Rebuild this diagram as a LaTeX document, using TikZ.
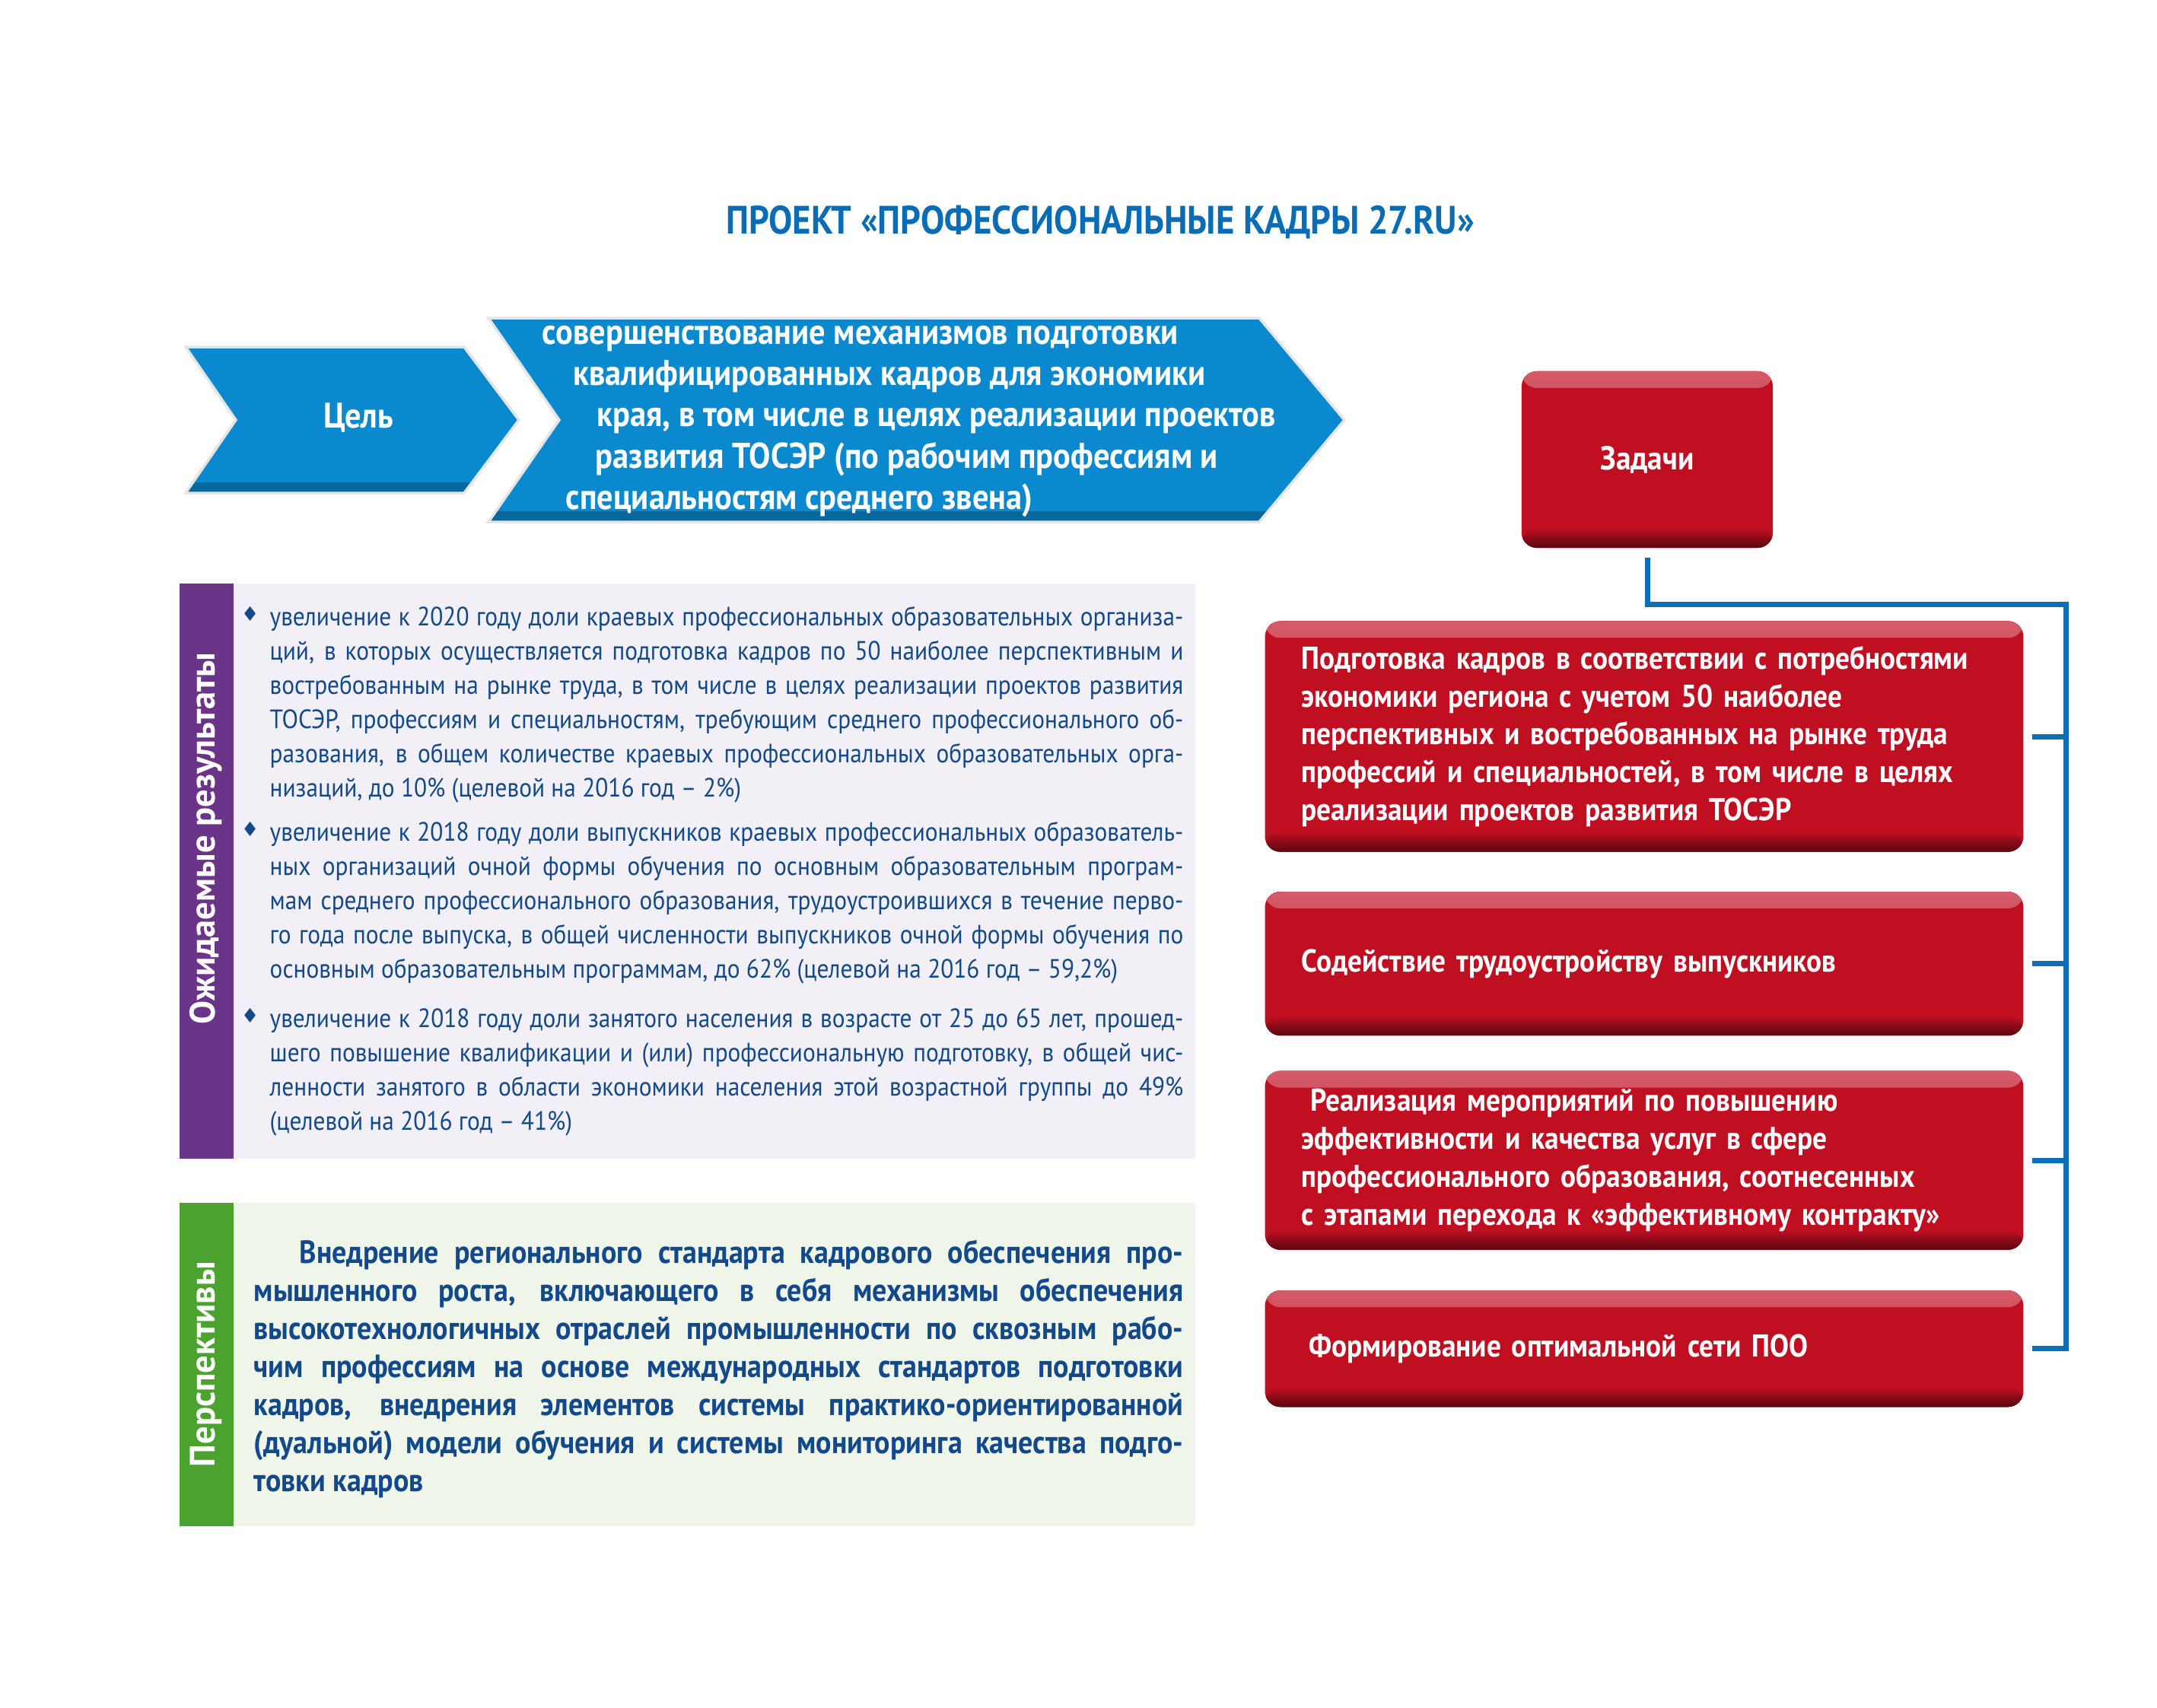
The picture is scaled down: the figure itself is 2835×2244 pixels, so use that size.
\documentclass[tikz,border=0pt]{standalone}
\usepackage{fontspec}
\setmainfont{PT Sans}[FakeStretch=0.9]
\newfontfamily\sidefont{PT Sans}
\newfontfamily\symfont{DejaVu Sans}
\usetikzlibrary{positioning,calc}
\definecolor{titleblue}{HTML}{0A6CB5}
\definecolor{chevblue}{HTML}{0A89CF}
\definecolor{taskred}{HTML}{C10F22}
\definecolor{linkblue}{HTML}{0B6FB8}
\definecolor{textblue}{HTML}{12498A}
\definecolor{resviolet}{HTML}{6A3589}
\definecolor{resbg}{HTML}{F2EFF7}
\definecolor{progreen}{HTML}{4BA22F}
\definecolor{probg}{HTML}{F0F5EA}
\tikzset{
  chevshape/.style={fill=chevblue, draw=black!10, line width=1pt,
    path picture={\fill[top color=chevblue, bottom color=chevblue!75!black]
      ([yshift=0.14cm]path picture bounding box.south west) rectangle (path picture bounding box.south east);}},
  redface/.style={fill=taskred, rounded corners=0.2cm, text=white,
    path picture={
      \fill[top color=taskred!68!white, bottom color=taskred]
        (path picture bounding box.north west) rectangle ([yshift=-0.22cm]path picture bounding box.north east);
      \fill[top color=taskred, bottom color=taskred!45!black]
        ([yshift=0.26cm]path picture bounding box.south west) rectangle (path picture bounding box.south east);}},
  taskbox/.style={redface, inner xsep=0.48cm, text width=9cm, align=left,
    font=\bfseries\fontsize{11.8pt}{14.2pt}\selectfont},
  conn/.style={draw=linkblue, line width=2pt},
  sidelabel/.style={rotate=90, text=white, font=\sidefont\bfseries\fontsize{13.2pt}{15pt}\selectfont},
  bodytext/.style={text=textblue, inner sep=0pt, anchor=north west, align=justify},
}
\newcommand{\resbullet}{\noindent\llap{\raisebox{1.5pt}{\symfont\fontsize{7.5pt}{7.5pt}\selectfont ♦}\hspace{4pt}}}

\begin{document}
\begin{tikzpicture}[x=0.01cm, y=-0.01cm]
  \useasboundingbox (0,0) rectangle (2835,2244);
  % title
  \node[anchor=base, text=titleblue, font=\bfseries\fontsize{14.8pt}{17pt}\selectfont] (title) at (1446,307)
    {ПРОЕКТ «ПРОФЕССИОНАЛЬНЫЕ КАДРЫ 27.RU»};

  % goal
  \fill[chevshape] (244,456) -- (610,456) -- (682,552) -- (610,648) -- (244,648) -- (310,552) -- cycle;
  \node[anchor=base, text=white, font=\bfseries\fontsize{13.3pt}{15pt}\selectfont] (goal) at (471,562) {Цель};
  \fill[chevshape] (642,418) -- (1655,418) -- (1767,552) -- (1655,686) -- (642,686) -- (735,552) -- cycle;
  \node[anchor=north west, inner sep=0pt, align=left, text=white,
    font=\bfseries\fontsize{13.4pt}{15.4pt}\selectfont] (goaltext) at (712,414)
    {\strut совершенствование механизмов подготовки\\
     \hspace*{0.41cm}квалифицированных кадров для экономики\\
     \hspace*{0.72cm}края, в том числе в целях реализации проектов\\
     \hspace*{0.70cm}развития ТОСЭР (по рабочим профессиям и\\
     \hspace*{0.31cm}специальностям среднего звена)};

  % expected results
  \fill[resbg] (307,767) rectangle (1571,1523);
  \fill[resviolet] (236,767) rectangle (307,1523);
  \node[sidelabel] (reslabel) at (271,1102) {Ожидаемые результаты};
  \node[bodytext, text width=12cm, font=\fontsize{9.9pt}{12.8pt}\selectfont] (res1) at (354,790)
    {\resbullet\strut увеличение к 2020 году доли краевых профессиональных образовательных организа-\linebreak
     ций, в которых осуществляется подготовка кадров по 50 наиболее перспективным и\linebreak
     востребованным на рынке труда, в том числе в целях реализации проектов развития\linebreak
     ТОСЭР, профессиям и специальностям, требующим среднего профессионального об-\linebreak
     разования, в общем количестве краевых профессиональных образовательных орга-\linebreak
     низаций, до 10\% (целевой на 2016 год – 2\%)};
  \node[bodytext, text width=12cm, font=\fontsize{9.9pt}{12.8pt}\selectfont] (res2) at (354,1073)
    {\resbullet\strut увеличение к 2018 году доли выпускников краевых профессиональных образователь-\linebreak
     ных организаций очной формы обучения по основным образовательным програм-\linebreak
     мам среднего профессионального образования, трудоустроившихся в течение перво-\linebreak
     го года после выпуска, в общей численности выпускников очной формы обучения по\linebreak
     основным образовательным программам, до 62\% (целевой на 2016 год – 59,2\%)};
  \node[bodytext, text width=12cm, font=\fontsize{9.9pt}{12.8pt}\selectfont] (res3) at (354,1318)
    {\resbullet\strut увеличение к 2018 году доли занятого населения в возрасте от 25 до 65 лет, прошед-\linebreak
     шего повышение квалификации и (или) профессиональную подготовку, в общей чис-\linebreak
     ленности занятого в области экономики населения этой возрастной группы до 49\%\linebreak
     (целевой на 2016 год – 41\%)};

  % prospects
  \fill[probg] (307,1581) rectangle (1571,2006);
  \fill[progreen] (236,1581) rectangle (307,2006);
  \node[sidelabel] (prolabel) at (271,1793) {Перспективы};
  \node[bodytext, text width=12.21cm, font=\bfseries\fontsize{12pt}{14.2pt}\selectfont] (prospect) at (333,1625)
    {\noindent\hspace*{0.6cm}\strut Внедрение регионального стандарта кадрового обеспечения про-\linebreak
     мышленного роста, включающего в себя механизмы обеспечения\linebreak
     высокотехнологичных отраслей промышленности по сквозным рабо-\linebreak
     чим профессиям на основе международных стандартов подготовки\linebreak
     кадров, внедрения элементов системы практико-ориентированной\linebreak
     (дуальной) модели обучения и системы мониторинга качества подго-\linebreak
     товки кадров};

  % tasks
  \node[redface, minimum width=3.3cm, minimum height=2.32cm,
    font=\bfseries\fontsize{12.4pt}{14pt}\selectfont] (Z) at (2165,604) {Задачи};
  \node[taskbox, minimum height=3.03cm] (T1) at (2161,968)
    {Подготовка кадров в соответствии с потребностями\\
     экономики региона с учетом 50 наиболее\\
     перспективных и востребованных на рынке труда\\
     профессий и специальностей, в том числе в целях\\
     реализации проектов развития ТОСЭР};
  \node[taskbox, minimum height=1.89cm, below=0.51cm of T1] (T2)
    {Содействие трудоустройству выпускников};
  \node[taskbox, minimum height=2.35cm, below=0.45cm of T2] (T3)
    {\hspace*{0.12cm}Реализация мероприятий по повышению\\
     эффективности и качества услуг в сфере\\
     профессионального образования, соотнесенных\\
     с этапами перехода к «эффективному контракту»};
  \node[taskbox, minimum height=1.53cm, below=0.52cm of T3] (T4)
    {\hspace*{0.1cm}Формирование оптимальной сети ПОО};

  \coordinate (bus) at (2715,794);
  \draw[conn] ([yshift=-0.12cm]Z.south) |- (bus) |- ([xshift=0.11cm]T4.east);
  \foreach \t in {T1,T2,T3}
    \draw[conn] (bus |- \t.east) -- ([xshift=0.11cm]\t.east);
\end{tikzpicture}
\end{document}
